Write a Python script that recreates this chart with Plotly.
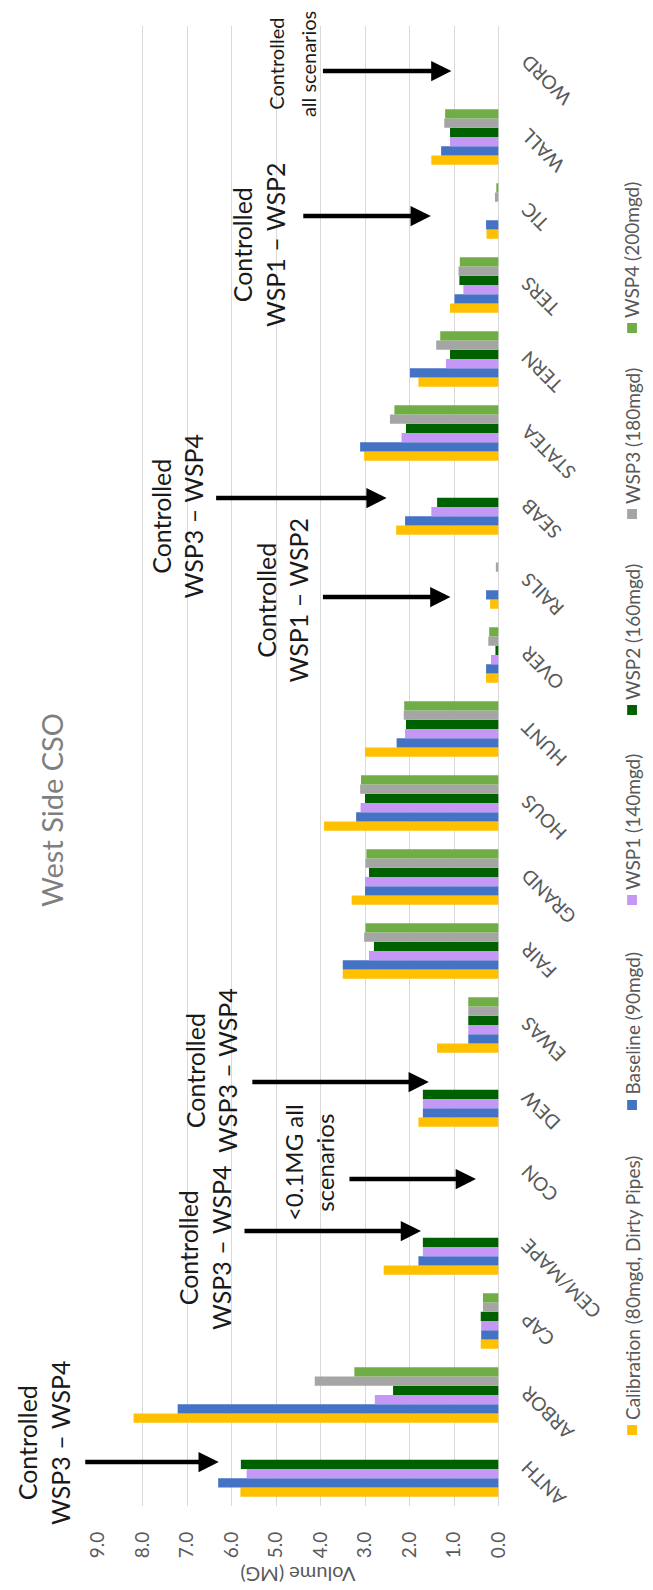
import plotly.graph_objects as go

# Overflow sites, listed bottom-to-top along the category axis
categories = ["ANTH", "ARBOR", "CAP", "CEM/MAPE", "CON", "DEW", "EWAS", "FAIR", "GRAND",
              "HOUS", "HUNT", "OVER", "RAILS", "SEAB", "STATEA", "TERN", "TERS", "TIC",
              "WALL", "WORD"]

# Overflow volume (MG) per scenario
calibration = [5.80, 8.20, 0.40, 2.58, 0.00, 1.80, 1.38, 3.50, 3.30, 3.92, 3.00, 0.28, 0.19,
               2.30, 3.02, 1.80, 1.09, 0.27, 1.51, 0.00]
baseline = [6.30, 7.21, 0.39, 1.80, 0.00, 1.70, 0.68, 3.50, 3.00, 3.20, 2.29, 0.28, 0.28,
            2.10, 3.11, 1.99, 0.99, 0.28, 1.29, 0.00]
wsp1 = [5.66, 2.78, 0.39, 1.70, 0.00, 1.70, 0.68, 2.91, 3.00, 3.10, 2.10, 0.17, 0.00,
        1.51, 2.18, 1.18, 0.79, 0.00, 1.09, 0.00]
wsp2 = [5.79, 2.37, 0.40, 1.70, 0.00, 1.70, 0.68, 2.80, 2.91, 3.00, 2.08, 0.07, 0.00,
        1.38, 2.08, 1.09, 0.88, 0.00, 1.09, 0.00]
wsp3 = [0.00, 4.13, 0.35, 0.00, 0.00, 0.00, 0.68, 3.02, 2.99, 3.11, 2.13, 0.23, 0.06,
        0.00, 2.44, 1.40, 0.90, 0.08, 1.22, 0.00]
wsp4 = [0.00, 3.24, 0.35, 0.00, 0.00, 0.00, 0.68, 2.99, 2.97, 3.09, 2.12, 0.21, 0.00,
        0.00, 2.34, 1.31, 0.87, 0.05, 1.20, 0.00]

series_names = ["Calibration (80mgd, Dirty Pipes)", "Baseline (90mgd)", "WSP1 (140mgd)",
                "WSP2 (160mgd)", "WSP3 (180mgd)", "WSP4 (200mgd)"]
series_values = [calibration, baseline, wsp1, wsp2, wsp3, wsp4]
series_colors = ["#FFC000", "#4472C4", "#C597F7", "#006100", "#A5A5A5", "#70AD47"]

value_ticks = list(range(0, 10))

FONT = "Lato"
GREY = "#595959"

W, H = 653, 1590
L, R, T, B = 98, 8, 26, 84
PW, PH = W - L - R, H - T - B
PLOT_RIGHT = 506  # pixel column of the zero line


def px(x):
    return (x - L) / PW


def py(y):
    return 1 - (y - T) / PH


fig = go.Figure()
for name, vals, col in zip(series_names, series_values, series_colors):
    fig.add_trace(go.Bar(y=categories, x=vals, name=name, orientation="h",
                         marker=dict(color=col, line=dict(width=0)), showlegend=False))

fig.update_layout(
    width=W, height=H,
    margin=dict(l=L, r=R, t=T, b=B, pad=0),
    paper_bgcolor="white", plot_bgcolor="white",
    barmode="group", bargap=0.25, bargroupgap=0,
    font=dict(family=FONT, color=GREY),
    xaxis=dict(domain=[0, px(PLOT_RIGHT)], range=[9, 0], tickvals=value_ticks,
               tickformat=".1f", tickangle=-90,
               showgrid=True, gridcolor="#D9D9D9", gridwidth=1,
               zeroline=True, zerolinecolor="#D9D9D9", zerolinewidth=1,
               showline=False, ticks="", ticklabelstandoff=21,
               tickfont=dict(family=FONT, size=19, color=GREY)),
    yaxis=dict(type="category", categoryorder="array", categoryarray=categories,
               anchor="free", position=px(531), side="left", tickangle=-135,
               showgrid=False, showline=False, ticks="", zeroline=False,
               tickfont=dict(family=FONT, size=19, color=GREY)),
)

ann = []

# Chart title and value-axis title
ann.append(dict(text="West Side CSO", x=px(50), y=py(810), xref="paper", yref="paper",
                showarrow=False, textangle=-90, xanchor="center", yanchor="middle",
                font=dict(family=FONT, size=29, color="#7F7F7F")))
ann.append(dict(text="Volume (MG)", x=px(302), y=py(1575), xref="paper", yref="paper",
                showarrow=False, textangle=180, xanchor="center", yanchor="middle",
                font=dict(family=FONT, size=20, color=GREY)))

# Callout notes: (text, centre x, centre y, font size)
notes = [
    ("Controlled<br>WSP3 \u2013 WSP4", 42, 1443, 25),
    ("Controlled<br>WSP3 \u2013 WSP4", 206, 1248, 25),
    ("<0.1MG all<br>scenarios", 313, 1163, 24),
    ("Controlled<br>WSP3 \u2013 WSP4", 213, 1070, 25),
    ("Controlled<br>WSP3 \u2013 WSP4", 178, 516, 25),
    ("Controlled<br>WSP1 \u2013 WSP2", 286, 600, 25),
    ("Controlled<br>WSP1 \u2013 WSP2", 262, 245, 25),
    ("Controlled", 279, 64, 20),
    ("all scenarios", 312, 64, 20),
]
for txt, cx, cy, fs in notes:
    ann.append(dict(text=txt, x=px(cx), y=py(cy), xref="paper", yref="paper",
                    showarrow=False, textangle=-90, xanchor="center", yanchor="middle",
                    font=dict(family=FONT, size=fs, color="#1A1A1A")))

# Callout arrows: (tail x, head x, y)
arrows = [
    (86, 221, 1462),
    (249, 427, 1231),
    (355, 483, 1179),
    (257, 435, 1082),
    (220, 392, 498),
    (328, 457, 597),
    (308, 437, 216),
    (328, 458, 71),
]
for x0, x1, yy in arrows:
    ann.append(dict(text="", x=px(x1), y=py(yy), xref="paper", yref="paper",
                    ax=x0 - x1, ay=0, axref="pixel", ayref="pixel",
                    showarrow=True, arrowhead=2, arrowsize=0.9, arrowwidth=4.5,
                    arrowcolor="black", standoff=0, startstandoff=0))

# Legend drawn along the right edge, reading upward
legend_y = [1430, 1105, 900, 710, 514, 328]
shapes = []
for name, col, ly in zip(series_names, series_colors, legend_y):
    shapes.append(dict(type="rect", xref="paper", yref="paper",
                       x0=px(637), x1=px(647), y0=py(ly + 5), y1=py(ly - 5),
                       fillcolor=col, line=dict(width=0)))
    ann.append(dict(text=name, x=px(642), y=py(ly - 8), xref="paper", yref="paper",
                    showarrow=False, textangle=-90, xanchor="center", yanchor="bottom",
                    font=dict(family=FONT, size=19, color=GREY)))

fig.update_layout(annotations=ann, shapes=shapes)

fig.write_html("out.html")
